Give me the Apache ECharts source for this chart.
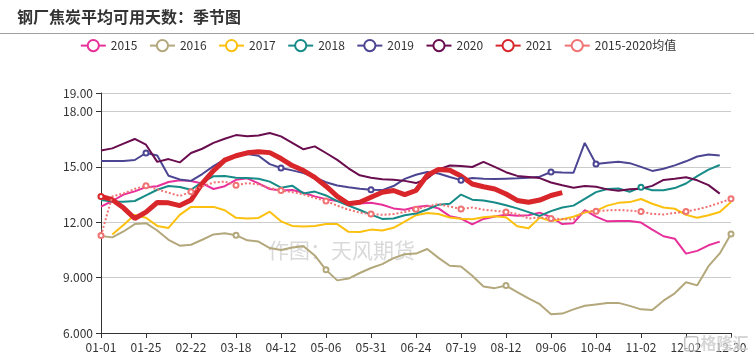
<!DOCTYPE html>
<html><head><meta charset="utf-8">
<script src="https://cdn.jsdelivr.net/npm/echarts@6/dist/echarts.min.js"></script>
<style>html,body{margin:0;padding:0;background:#fff}#c{width:756px;height:360px}</style>
</head><body><div id="c"></div>
<script>
const categories = ['01-01','01-07','01-13','01-19','01-25','02-01','02-08','02-15','02-22','02-28',
 '03-06','03-12','03-18','03-24','03-31','04-06','04-12','04-18','04-24','04-30',
 '05-06','05-12','05-18','05-24','05-31','06-06','06-12','06-18','06-24','06-30',
 '07-07','07-13','07-19','07-25','07-31','08-06','08-12','08-18','08-24','08-30',
 '09-06','09-13','09-20','09-27','10-04','10-11','10-18','10-25','11-02','11-09',
 '11-16','11-23','12-02','12-09','12-16','12-23','12-30'];

const s2015 = [12.85,13.15,13.5,13.67,13.9,13.95,14.18,14.28,14.23,14.1,
 13.8,13.95,14.3,14.38,14.1,13.8,13.72,13.75,13.6,13.4,
 13.25,13.15,13.08,13.01,13.05,12.95,12.75,12.68,12.83,12.89,
 12.75,12.33,12.2,11.88,12.18,12.31,12.41,12.35,12.38,12.52,
 12.27,11.9,11.95,12.65,12.3,12.05,12.06,12.07,11.98,11.6,
 11.24,11.11,10.3,10.45,10.75,10.95];
const s2016 = [11.25,11.18,11.5,11.9,11.95,11.55,11.05,10.73,10.78,11.05,
 11.34,11.4,11.3,11.02,10.95,10.6,10.5,10.63,10.7,10.2,
 9.42,8.85,8.95,9.25,9.52,9.73,10.05,10.27,10.3,10.55,
 10.07,9.64,9.6,9.1,8.52,8.43,8.57,8.22,7.88,7.56,
 7.02,7.05,7.28,7.48,7.55,7.62,7.63,7.47,7.28,7.25,
 7.75,8.15,8.75,8.58,9.62,10.31,11.36];
const s2017 = [null,11.33,11.85,12.4,12.24,11.8,11.69,12.4,12.83,12.83,
 12.83,12.65,12.24,12.2,12.23,12.57,12.05,11.8,11.77,11.8,
 11.9,11.9,11.48,11.47,11.6,11.55,11.7,12.03,12.38,12.5,
 12.45,12.26,12.19,12.16,12.27,12.32,12.27,11.78,11.67,12.25,
 12.06,12.16,12.3,12.53,12.62,12.9,13.05,13.09,13.26,13.0,
 12.8,12.73,12.4,12.24,12.38,12.55,13.1];
const s2018 = [13.2,13.12,13.11,13.15,13.46,13.76,13.96,13.91,13.76,14.18,
 14.49,14.5,14.41,14.4,14.36,14.2,13.87,13.98,13.56,13.66,
 13.45,13.14,12.9,12.66,12.41,12.18,12.2,12.38,12.47,12.69,
 12.95,13.0,13.5,13.22,13.18,13.07,12.92,12.75,12.55,12.34,
 12.6,12.8,12.9,13.26,13.63,13.8,13.83,13.65,13.9,13.73,
 13.73,13.85,14.1,14.5,14.85,15.1];
const s2019 = [15.32,15.32,15.32,15.37,15.75,15.62,14.52,14.32,14.24,14.61,
 15.04,15.4,15.6,15.7,15.6,15.15,14.94,14.81,14.66,14.43,
 14.17,13.99,13.89,13.81,13.76,13.74,13.96,14.35,14.57,14.72,
 14.64,14.45,14.28,14.4,14.35,14.34,14.36,14.38,14.41,14.47,
 14.72,14.69,14.68,16.3,15.15,15.22,15.27,15.2,15.0,14.78,
 14.9,15.08,15.3,15.56,15.67,15.62];
const s2020 = [15.88,16.0,16.26,16.51,16.2,15.27,15.42,15.24,15.75,15.98,
 16.3,16.52,16.72,16.66,16.7,16.83,16.65,16.3,15.95,16.11,
 15.75,15.38,14.92,14.54,14.41,14.33,14.3,14.24,14.12,14.37,
 14.86,15.07,15.04,14.99,15.27,15.0,14.71,14.51,14.45,14.39,
 14.15,14.0,13.87,13.96,13.92,13.78,13.7,13.79,13.82,13.97,
 14.29,14.36,14.44,14.27,14.01,13.55];
const s2021 = [13.4,13.22,12.78,12.2,12.55,13.07,13.05,12.9,13.2,14.1,
 14.8,15.36,15.6,15.76,15.82,15.77,15.45,15.07,14.8,14.43,
 13.95,13.4,13.0,13.08,13.35,13.62,13.72,13.5,13.72,14.55,
 14.85,14.82,14.5,14.07,13.92,13.8,13.53,13.18,13.08,13.2,
 13.45,13.6];
const sAvg = [11.28,13.4,13.56,13.8,13.97,13.78,13.6,13.42,13.65,13.95,
 14.15,14.2,14.0,14.12,14.05,13.85,13.72,13.63,13.5,13.32,
 13.15,12.9,12.68,12.52,12.45,12.4,12.44,12.55,12.7,12.87,
 12.98,12.85,12.72,12.8,12.68,12.62,12.56,12.45,12.2,12.26,
 12.2,12.17,12.15,12.6,12.6,12.64,12.66,12.63,12.58,12.45,
 12.42,12.5,12.58,12.7,12.85,13.05,13.27];

// category indices where each series shows a hollow marker
const marks2016 = [12,20,36,56];
const marks2018 = [48];
const marks2019 = [4,16,24,32,40,44];
const marks2021 = [0];

const FONT = "'Microsoft YaHei','Noto Sans CJK SC','Noto Sans',sans-serif";
const chart = echarts.init(document.getElementById('c'));

function mk(name, data, color, isMark, extra) {
  return Object.assign({
    name: name, type: 'line', data: data,
    symbol: 'emptyCircle', showAllSymbol: true,
    symbolSize: function (v, p) { return isMark(p.dataIndex) ? 5 : 0; },
    lineStyle: { color: color, width: 2 },
    itemStyle: { color: color },
    color: color,
    emphasis: { disabled: true },
    animation: false
  }, extra || {});
}
const inList = function (l) { return function (i) { return l.indexOf(i) >= 0; }; };
const none = function () { return false; };

chart.setOption({
  animation: false,
  backgroundColor: '#fff',
  title: {
    text: '钢厂焦炭平均可用天数：季节图', left: 12, top: 4,
    textStyle: { fontSize: 16, fontWeight: 'bold', color: '#333', fontFamily: FONT }
  },
  legend: {
    top: 34, left: 'center', itemGap: 11.5, itemWidth: 25, itemHeight: 14,
    textStyle: { fontSize: 12, color: '#333', fontFamily: FONT },
    lineStyle: { width: 2, type: 'solid' },
    data: ['2015','2016','2017','2018','2019','2020','2021','2015-2020均值']
  },
  grid: { left: 101, right: 25, top: 93, bottom: 27 },
  xAxis: {
    type: 'category', data: categories, boundaryGap: false,
    axisLine: { lineStyle: { color: '#333', width: 1 } },
    axisTick: { interval: 3, length: 5, lineStyle: { color: '#333' } },
    axisLabel: { interval: 3, color: '#333', fontSize: 12, fontFamily: FONT, margin: 8 },
    splitLine: { show: false }
  },
  yAxis: {
    type: 'value', min: 6, max: 19, interval: 3,
    axisLine: { show: true, lineStyle: { color: '#333', width: 1 } },
    axisTick: { show: true, length: 5, lineStyle: { color: '#333' } },
    axisLabel: { color: '#333', fontSize: 12, fontFamily: FONT, margin: 8,
      formatter: function (v) { return Number(v).toPrecision(4); } },
    splitLine: { lineStyle: { color: '#ccc', width: 1 } }
  },
  graphic: [
    { type: 'line', shape: { x1: 0, y1: 33.5, x2: 754, y2: 33.5 }, style: { stroke: '#a0a0a0', lineWidth: 1 }, silent: true },
    { type: 'text', left: 268, top: 240, z: 0, silent: true,
      style: { text: '作图：天风期货', fontSize: 21, fill: 'rgba(170,170,170,0.45)', fontFamily: FONT } },
    { type: 'rect', left: 684, top: 336, shape: { width: 13, height: 14, r: 2 }, z: 100, silent: true,
      style: { fill: 'rgba(255,255,255,0.4)', stroke: 'rgba(170,170,170,0.7)', lineWidth: 1.5 } },
    { type: 'text', left: 700, top: 334, z: 100, silent: true,
      style: { text: '格隆汇', fontSize: 16, fontWeight: 'bold', fill: 'rgba(200,200,200,0.75)', stroke: 'rgba(255,255,255,0.6)', lineWidth: 1, fontFamily: FONT } }
  ],
  series: [
    mk('2015', s2015, '#e8309a', none),
    mk('2016', s2016, '#b3a87c', inList(marks2016)),
    mk('2017', s2017, '#fcc00f', none),
    mk('2018', s2018, '#168b87', inList(marks2018)),
    mk('2019', s2019, '#4b4592', inList(marks2019)),
    mk('2020', s2020, '#6a0d4f', none),
    mk('2021', s2021, '#d8262b', inList(marks2021), { lineStyle: { color: '#d8262b', width: 5 }, z: 3 }),
    mk('2015-2020均值', sAvg, '#f07373', function (i) { return i % 4 === 0; },
       { lineStyle: { color: '#f07373', width: 2, type: 'dotted' }, z: 4 })
  ]
});
</script>
</body></html>
